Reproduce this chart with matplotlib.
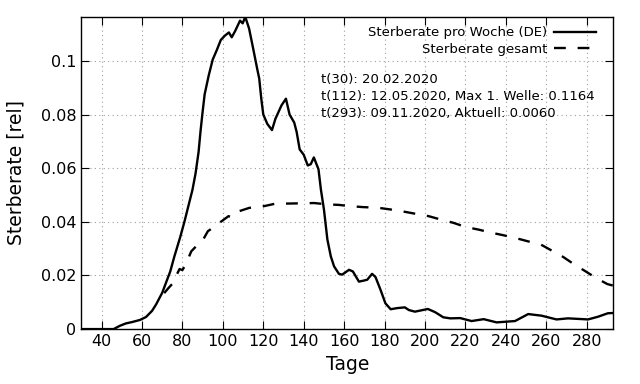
import matplotlib
matplotlib.use("Agg")
import matplotlib.pyplot as plt

# Sterberate pro Woche (DE)
week_days = [30, 46, 49, 52, 55, 59, 62, 65, 67, 70, 72, 74, 76, 79, 81, 83, 85, 86.5, 88,
             89, 90, 91, 93, 95, 97, 99, 101, 103, 104.4, 106, 108.5, 109.8, 111.1, 113,
             115, 117, 118, 119, 120, 122, 124.3, 126, 129, 131.2, 133, 135.3, 136.5, 138,
             140, 142, 143.5, 145, 147.3, 148.5, 150, 151.7, 153.4, 155, 157.4, 159, 162.4,
             164.3, 167.3, 169.8, 171.4, 173.8, 175.5, 178, 180.4, 183, 186, 190, 192,
             195, 201.4, 205, 209, 212.5, 217.4, 223, 229, 235.4, 244.5, 251, 257.6, 265,
             270.7, 280.6, 285.5, 290.4, 293]
week_rate = [0.0, 0.0, 0.0012, 0.0021, 0.0026, 0.0034, 0.0045, 0.0068, 0.0092, 0.0135,
             0.0175, 0.0215, 0.027, 0.0345, 0.040, 0.046, 0.052, 0.058, 0.066,
             0.074, 0.081, 0.0875, 0.0945, 0.1005, 0.104, 0.1078, 0.1094, 0.1106, 0.1088,
             0.111, 0.115, 0.114, 0.1164, 0.112, 0.1046, 0.097, 0.0934, 0.086, 0.080,
             0.0765, 0.0742, 0.0784, 0.0834, 0.0859, 0.080, 0.077, 0.0735, 0.067, 0.065,
             0.061, 0.0615, 0.064, 0.0596, 0.052, 0.0446, 0.0334, 0.0271, 0.0234, 0.0206,
             0.0203, 0.0221, 0.0215, 0.0177, 0.0181, 0.0184, 0.0206, 0.0194, 0.0146,
             0.0096, 0.0074, 0.0078, 0.0081, 0.0071, 0.0065, 0.0075, 0.0063, 0.0044,
             0.0040, 0.0041, 0.0030, 0.0037, 0.0025, 0.0030, 0.0056, 0.0050, 0.0036,
             0.0040, 0.0036, 0.0046, 0.0059, 0.0060]

# Sterberate gesamt
total_days = [71, 73, 75.3, 77, 78.6, 80, 81.6, 84.4, 87.6, 90, 92.6, 96.7, 99, 102.8,
              104, 106.6, 113.1, 118.9, 126.2, 131.9, 139.3, 145.1, 151.7, 157.4, 162.4,
              168.9, 177.1, 182.9, 189.5, 195.2, 201.8, 207.5, 214.1, 219.9, 226.4, 233,
              238.7, 244.5, 251, 257.3, 263.3, 268.3, 274, 279, 284.7, 290.1, 293]
total_rate = [0.0134, 0.0152, 0.0171, 0.0200, 0.0224, 0.0220, 0.0240, 0.0290, 0.0315,
              0.0330, 0.0365, 0.0386, 0.0400, 0.0421, 0.0418, 0.0436, 0.0452, 0.0456,
              0.0468, 0.0468, 0.0469, 0.0470, 0.0465, 0.0463, 0.0459, 0.0455, 0.0452,
              0.0446, 0.0438, 0.0430, 0.0421, 0.0409, 0.0396, 0.0381, 0.0371, 0.0359,
              0.0350, 0.0340, 0.0327, 0.0315, 0.0290, 0.0269, 0.0240, 0.0217, 0.0190,
              0.0168, 0.0162]

info_lines = ["t(30): 20.02.2020",
              "t(112): 12.05.2020, Max 1. Welle: 0.1164",
              "t(293): 09.11.2020, Aktuell: 0.0060"]

x_ticks = list(range(40, 281, 20))
y_ticks = [0, 0.02, 0.04, 0.06, 0.08, 0.1]

fig = plt.figure(figsize=(6.4, 3.84), dpi=100)
ax = fig.add_axes([0.127, 0.143, 0.831, 0.813])

ax.plot(week_days, week_rate, color="black", lw=1.7, label="Sterberate pro Woche (DE)")
ax.plot(total_days, total_rate, color="black", lw=1.7, dashes=(5, 5),
        label="Sterberate gesamt")

ax.set_xlim(30, 293)
ax.set_ylim(0, 0.1164)
ax.set_xticks(x_ticks)
ax.set_yticks(y_ticks)
ax.set_yticklabels(["0", "0.02", "0.04", "0.06", "0.08", "0.1"])
ax.tick_params(direction="in", top=True, right=True, length=6, labelsize=11.5)
ax.grid(True, color="#a0a0a0", linestyle=(0, (1, 3)), lw=0.8)
for s in ax.spines.values():
    s.set_linewidth(1.0)

ax.set_xlabel("Tage", fontsize=13.5, labelpad=4)
ax.set_ylabel("Sterberate [rel]", fontsize=13.5, labelpad=11)

ax.legend(loc="upper right", bbox_to_anchor=(0.985, 1.0), frameon=False,
          markerfirst=False, fontsize=9.5, handlelength=3.2, handletextpad=0.5,
          borderaxespad=0.3, labelspacing=0.3)

for i, line in enumerate(info_lines):
    ax.text(0.4506, 0.801 - i * 0.056, line, transform=ax.transAxes,
            fontsize=9.5, va="center", ha="left")

fig.savefig("out.png", dpi=100)
